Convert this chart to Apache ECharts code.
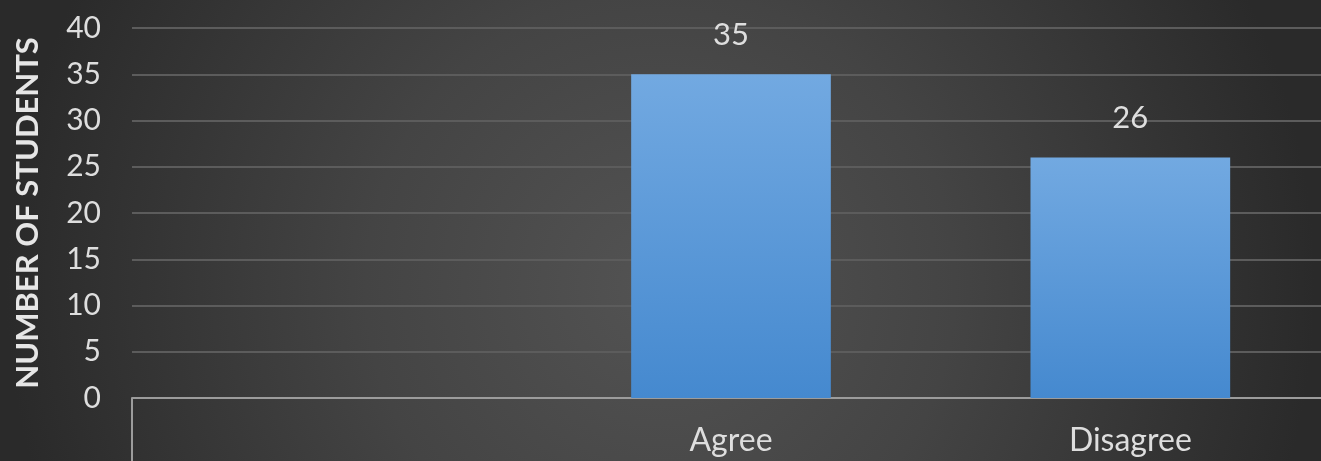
<!DOCTYPE html>
<html>
<head>
<meta charset="utf-8">
<script src="https://cdn.jsdelivr.net/npm/echarts@6/dist/echarts.min.js"></script>
<style>
  html, body { margin: 0; padding: 0; background: #2b2b2b; }
  #chart { width: 1321px; height: 461px; }
</style>
</head>
<body>
<div id="chart"></div>
<script>
// Survey responses: number of students per answer
const categories = ['', 'Agree', 'Disagree'];
const students = ['-', 35, 26];
const yTicks = { min: 0, max: 40, interval: 5 };

const FONT = 'Lato, "Open Sans", sans-serif';
const chart = echarts.init(document.getElementById('chart'));

const option = {
  backgroundColor: {
    type: 'radial', x: 0.5, y: 0.62, r: 1.42,
    colorStops: [
      { offset: 0, color: '#535353' },
      { offset: 0.45, color: '#444444' },
      { offset: 1, color: '#2a2a2a' }
    ]
  },
  animation: false,
  grid: { left: 132, right: -9, top: 28, bottom: 63, outerBoundsMode: 'none', containLabel: false },
  xAxis: {
    type: 'category',
    data: categories,
    axisLine: { show: true, lineStyle: { color: '#9c9c9c', width: 2 } },
    axisTick: { show: false },
    axisLabel: { color: '#dedede', fontSize: 32, fontFamily: FONT, margin: 27 }
  },
  yAxis: {
    type: 'value',
    min: yTicks.min, max: yTicks.max, interval: yTicks.interval,
    name: 'NUMBER OF STUDENTS',
    nameLocation: 'middle',
    nameGap: 89,
    nameTextStyle: { color: '#e6e6e6', fontSize: 31, fontWeight: 'bold', fontFamily: FONT },
    axisLine: { show: false },
    axisTick: { show: false },
    axisLabel: { color: '#dedede', fontSize: 30, fontFamily: FONT, margin: 31 },
    splitLine: { lineStyle: { color: '#5c5c5c', width: 2 } }
  },
  series: [{
    type: 'bar',
    data: students,
    barWidth: '50%',
    itemStyle: {
      color: {
        type: 'linear', x: 0, y: 0, x2: 0, y2: 1,
        colorStops: [
          { offset: 0, color: '#72a9e1' },
          { offset: 1, color: '#4589cf' }
        ]
      }
    },
    label: {
      show: true, position: 'top', distance: 24,
      color: '#dedede', fontSize: 31, fontFamily: FONT
    }
  }]
};
chart.setOption(option);

// Left edge of the category label band, hanging below the axis line
const origin = chart.convertToPixel({ xAxisIndex: 0, yAxisIndex: 0 }, [0, 0]);
const leftX = chart.getModel().getComponent('grid').coordinateSystem.getRect().x;
chart.setOption({
  graphic: [{
    type: 'line',
    shape: { x1: leftX, y1: origin[1], x2: leftX, y2: 461 },
    style: { stroke: '#9c9c9c', lineWidth: 2 },
    z: 10
  }]
});
</script>
</body>
</html>
